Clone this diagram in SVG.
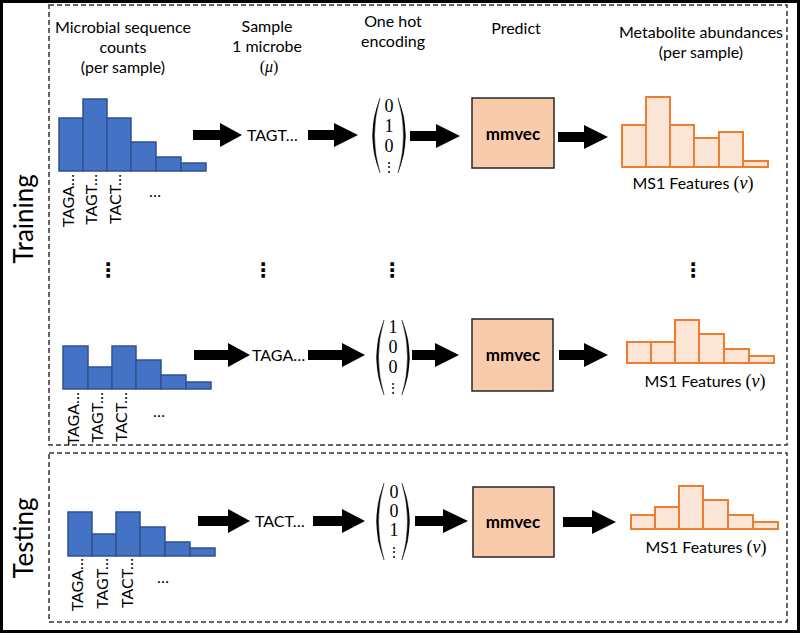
<svg xmlns="http://www.w3.org/2000/svg" width="800" height="633" viewBox="0 0 800 633">
<style>
.t{font-family:Lato,"Liberation Sans",Arial,sans-serif;font-size:16px;fill:#000;}
.hd{text-anchor:middle;}
.seq{font-family:Lato,"Liberation Sans",Arial,sans-serif;font-size:16px;fill:#000;}
.lab{font-family:Lato,"Liberation Sans",Arial,sans-serif;font-size:16px;fill:#000;text-anchor:end;}
.math{font-family:"Liberation Serif","DejaVu Serif",serif;font-size:18px;fill:#000;text-anchor:middle;}
.mi{font-family:"Liberation Serif","DejaVu Serif",serif;font-style:italic;}
.mp{font-family:"Liberation Serif","DejaVu Serif",serif;}
.vd{font-family:"DejaVu Sans",sans-serif;font-weight:bold;font-size:20px;text-anchor:middle;fill:#000;}
.vds{font-family:"DejaVu Serif",serif;font-size:14px;text-anchor:middle;fill:#000;}
.blue{fill:#4472C4;stroke:#2F528F;stroke-width:1.5;}
.org{fill:#FBE5D6;stroke:#ED7D31;stroke-width:2;}
.box{fill:#F8CBAD;stroke:#262626;stroke-width:1.5;}
.mm{font-family:Lato,"Liberation Sans",Arial,sans-serif;font-weight:bold;font-size:17px;text-anchor:middle;fill:#000;}
.dash{fill:none;stroke:#333;stroke-width:1.5;stroke-dasharray:5 3;}
.side{font-family:Lato,"Liberation Sans",Arial,sans-serif;font-size:26px;text-anchor:middle;fill:#000;}
.arr{fill:#000;}
.par{fill:#000;stroke:#000;stroke-width:0.4;}
</style>
<rect x="1.5" y="1.5" width="797" height="630" fill="#fff" stroke="#000" stroke-width="3"/>

<g id="training-frame">
<rect class="dash" x="49" y="5" width="738" height="440"/>
<text class="side" transform="translate(33,219) rotate(-90)">Training</text>
</g>
<g id="testing-frame">
<rect class="dash" x="49" y="453" width="738" height="169"/>
<text class="side" transform="translate(33,538) rotate(-90)">Testing</text>
</g>

<g id="headers">
<text class="t hd" x="123" y="33">Microbial sequence</text>
<text class="t hd" x="123" y="53">counts</text>
<text class="t hd" x="123" y="73">(per sample)</text>
<text class="t hd" x="267" y="32">Sample</text>
<text class="t hd" x="267" y="52">1 microbe</text>
<text class="t hd" x="269" y="72"><tspan class="mp">(</tspan><tspan class="mi">μ</tspan><tspan class="mp">)</tspan></text>
<text class="t hd" x="393" y="27">One hot</text>
<text class="t hd" x="393" y="47">encoding</text>
<text class="t hd" x="516" y="34">Predict</text>
<text class="t hd" x="701" y="38">Metabolite abundances</text>
<text class="t hd" x="701" y="58">(per sample)</text>
</g>

<!-- Row 1 -->
<g id="counts-1">
<rect class="blue" x="59" y="118" width="24" height="53"/>
<rect class="blue" x="83" y="99" width="24" height="72"/>
<rect class="blue" x="107" y="118" width="24" height="53"/>
<rect class="blue" x="131" y="142" width="25" height="29"/>
<rect class="blue" x="156" y="157" width="25" height="14"/>
<rect class="blue" x="181" y="163" width="25" height="8"/>
<text class="lab" transform="translate(74,174) rotate(-90)">TAGA…</text>
<text class="lab" transform="translate(97,174) rotate(-90)">TAGT…</text>
<text class="lab" transform="translate(121,174) rotate(-90)">TACT…</text>
<text class="seq" x="155" y="197" text-anchor="middle">…</text>
</g>
<g id="sample-1"><text class="seq" x="247" y="141">TAGT…</text></g>
<g id="onehot-1">
<path class="par" d="M380 98 Q365 135.5 380 173 Q369 135.5 380 98Z"/>
<path class="par" d="M398 98 Q413 135.5 398 173 Q409 135.5 398 98Z"/>
<text class="math" x="389" y="112">0</text>
<text class="math" x="389" y="132">1</text>
<text class="math" x="389" y="152">0</text>
<text class="vds" x="389" y="172">⋮</text>
</g>
<g id="mmvec-1">
<rect class="box" x="472" y="98" width="82" height="70"/>
<text class="mm" x="513" y="140">mmvec</text>
</g>
<g id="metab-1">
<rect class="org" x="622" y="125" width="24" height="42"/>
<rect class="org" x="646" y="97" width="24" height="70"/>
<rect class="org" x="670" y="125" width="24" height="42"/>
<rect class="org" x="694" y="138" width="25" height="29"/>
<rect class="org" x="719" y="132" width="24" height="35"/>
<rect class="org" x="743" y="161" width="25" height="6"/>
<text class="t hd" x="693" y="189">MS1 Features <tspan class="mp" font-size="18">(</tspan><tspan class="mi" font-size="18">ν</tspan><tspan class="mp" font-size="18">)</tspan></text>
</g>

<!-- ellipses between rows -->
<g id="more">
<text class="vd" x="108" y="277">⋮</text>
<text class="vd" x="263" y="277">⋮</text>
<text class="vd" x="392" y="277">⋮</text>
<text class="vd" x="693" y="277">⋮</text>
</g>

<!-- Row 2 -->
<g id="counts-2">
<rect class="blue" x="63" y="346" width="25" height="43"/>
<rect class="blue" x="88" y="367" width="24" height="22"/>
<rect class="blue" x="112" y="346" width="24" height="43"/>
<rect class="blue" x="136" y="360" width="25" height="29"/>
<rect class="blue" x="161" y="375" width="25" height="14"/>
<rect class="blue" x="186" y="382" width="25" height="7"/>
<text class="lab" transform="translate(79,392) rotate(-90)">TAGA…</text>
<text class="lab" transform="translate(103,392) rotate(-90)">TAGT…</text>
<text class="lab" transform="translate(127,392) rotate(-90)">TACT…</text>
<text class="seq" x="159" y="417" text-anchor="middle">…</text>
</g>
<g id="sample-2"><text class="seq" x="252" y="361">TAGA…</text></g>
<g id="onehot-2">
<path class="par" d="M384 320 Q369 357.5 384 395 Q373 357.5 384 320Z"/>
<path class="par" d="M402 320 Q417 357.5 402 395 Q413 357.5 402 320Z"/>
<text class="math" x="393" y="333">1</text>
<text class="math" x="393" y="353">0</text>
<text class="math" x="393" y="373">0</text>
<text class="vds" x="393" y="393">⋮</text>
</g>
<g id="mmvec-2">
<rect class="box" x="472" y="319" width="81" height="72"/>
<text class="mm" x="513" y="361">mmvec</text>
</g>
<g id="metab-2">
<rect class="org" x="627" y="342" width="24" height="21"/>
<rect class="org" x="651" y="342" width="24" height="21"/>
<rect class="org" x="675" y="320" width="24" height="43"/>
<rect class="org" x="699" y="334" width="25" height="29"/>
<rect class="org" x="724" y="349" width="25" height="14"/>
<rect class="org" x="749" y="356" width="25" height="7"/>
<text class="t hd" x="705" y="387">MS1 Features <tspan class="mp" font-size="18">(</tspan><tspan class="mi" font-size="18">ν</tspan><tspan class="mp" font-size="18">)</tspan></text>
</g>

<!-- Row 3 -->
<g id="counts-3">
<rect class="blue" x="68" y="512" width="24" height="44"/>
<rect class="blue" x="92" y="534" width="24" height="22"/>
<rect class="blue" x="116" y="512" width="24" height="44"/>
<rect class="blue" x="140" y="527" width="25" height="29"/>
<rect class="blue" x="165" y="542" width="25" height="14"/>
<rect class="blue" x="190" y="548" width="25" height="8"/>
<text class="lab" transform="translate(83,558) rotate(-90)">TAGA…</text>
<text class="lab" transform="translate(108,558) rotate(-90)">TAGT…</text>
<text class="lab" transform="translate(133,558) rotate(-90)">TACT…</text>
<text class="seq" x="163" y="583" text-anchor="middle">…</text>
</g>
<g id="sample-3"><text class="seq" x="255" y="527">TACT…</text></g>
<g id="onehot-3">
<path class="par" d="M384 483 Q369 521.5 384 560 Q373 521.5 384 483Z"/>
<path class="par" d="M402 483 Q417 521.5 402 560 Q413 521.5 402 483Z"/>
<text class="math" x="394" y="498">0</text>
<text class="math" x="394" y="517">0</text>
<text class="math" x="394" y="536">1</text>
<text class="vds" x="394" y="557">⋮</text>
</g>
<g id="mmvec-3">
<rect class="box" x="473" y="487" width="81" height="70"/>
<text class="mm" x="513" y="528">mmvec</text>
</g>
<g id="metab-3">
<rect class="org" x="631" y="515" width="24" height="14"/>
<rect class="org" x="655" y="507" width="24" height="22"/>
<rect class="org" x="679" y="486" width="24" height="43"/>
<rect class="org" x="703" y="500" width="25" height="29"/>
<rect class="org" x="728" y="515" width="25" height="14"/>
<rect class="org" x="753" y="522" width="25" height="7"/>
<text class="t hd" x="706" y="553">MS1 Features <tspan class="mp" font-size="18">(</tspan><tspan class="mi" font-size="18">ν</tspan><tspan class="mp" font-size="18">)</tspan></text>
</g>

<g id="connectors">
<polygon class="arr" points="193,130 220,130 220,123 242,135 220,147 220,140 193,140"/>
<polygon class="arr" points="308,130 334,130 334,123 358,135 334,147 334,140 308,140"/>
<polygon class="arr" points="410,131 436,131 436,124 460,136 436,148 436,141 410,141"/>
<polygon class="arr" points="558,132 584,132 584,125 608,137 584,149 584,142 558,142"/>

<polygon class="arr" points="194,350 228,350 228,343 250,355 228,367 228,360 194,360"/>
<polygon class="arr" points="308,350 342,350 342,343 365,355 342,367 342,360 308,360"/>
<polygon class="arr" points="412,350 435,350 435,343 459,355 435,367 435,360 412,360"/>
<polygon class="arr" points="559,350 584,350 584,343 608,355 584,367 584,360 559,360"/>

<polygon class="arr" points="198,516 228,516 228,509 250,521 228,533 228,526 198,526"/>
<polygon class="arr" points="313,516 342,516 342,509 365,521 342,533 342,526 313,526"/>
<polygon class="arr" points="415,516 443,516 443,509 468,521 443,533 443,526 415,526"/>
<polygon class="arr" points="563,517 592,517 592,510 616,522 592,534 592,527 563,527"/>
</g>
</svg>
